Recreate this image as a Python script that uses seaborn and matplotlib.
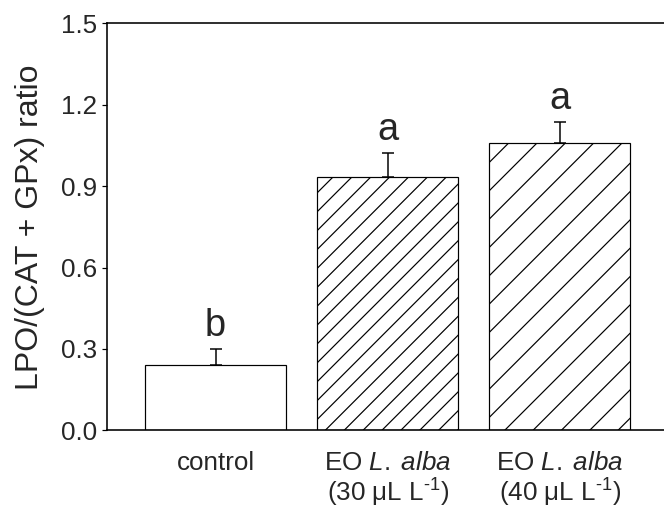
import matplotlib
matplotlib.use("Agg")
import matplotlib.pyplot as plt
import seaborn as sns
import pandas as pd

groups = ["control", "EO 30", "EO 40"]
tick_labels = [
    "control",
    "EO $\\mathit{L.\\;alba}$\n(30 μL L$^{\\text{-1}}$)",
    "EO $\\mathit{L.\\;alba}$\n(40 μL L$^{\\text{-1}}$)",
]
means = [0.241, 0.932, 1.058]
errors = [0.058, 0.089, 0.080]
letters = ["b", "a", "a"]
hatches = ["", "///", "//"]

sns.set_theme(style="white")
DPI = 170
PT = 72.0 / DPI  # points per pixel


def px(v):
    return v * PT


plt.rcParams["font.family"] = ["Liberation Sans", "DejaVu Sans"]
plt.rcParams["mathtext.fontset"] = "custom"
plt.rcParams["mathtext.rm"] = "Liberation Sans"
plt.rcParams["mathtext.it"] = "Liberation Sans:italic"
plt.rcParams["hatch.linewidth"] = px(1.2)
plt.rcParams["hatch.color"] = "black"

fig = plt.figure(figsize=(664 / DPI, 510 / DPI), dpi=DPI)
ax = fig.add_axes([107 / 664, 1 - 430.3 / 510, 1 - 107 / 664, (430.3 - 23.3) / 510])

df = pd.DataFrame({"group": groups, "value": means})
sns.barplot(data=df, x="group", y="value", ax=ax, color="white",
            edgecolor="black", linewidth=px(1.2), width=0.823, errorbar=None,
            saturation=1)
for p, h in zip(ax.patches, hatches):
    p.set_hatch(h)
    p.set_facecolor("white")
    p.set_edgecolor("black")

xs = list(range(len(groups)))
ax.errorbar(xs, means, yerr=[[0] * len(errors), errors], fmt="none",
            ecolor="black", elinewidth=px(1.5), capsize=px(6), capthick=px(1.5),
            zorder=3)

for x, m, e, l in zip(xs, means, errors, letters):
    ax.annotate(l, (x, m + e), xytext=(0, px(5)), textcoords="offset points",
                ha="center", va="bottom", fontsize=px(38))

ax.set_xlim(-0.631, 2.607)
ax.set_ylim(0, 1.5)
ax.set_yticks([0.0, 0.3, 0.6, 0.9, 1.2, 1.5])
ax.set_yticklabels(["0.0", "0.3", "0.6", "0.9", "1.2", "1.5"])
ax.set_xticks(xs)
ax.set_xticklabels(tick_labels, fontsize=px(26), linespacing=1.05)
ax.set_xlabel("")
ax.set_ylabel("LPO/(CAT + GPx) ratio", fontsize=px(32), labelpad=px(16))

ax.tick_params(axis="y", which="both", left=True, length=px(5), width=px(1.2),
               pad=px(5), labelsize=px(26), color="black", direction="out")
ax.tick_params(axis="x", bottom=False, length=0, pad=px(21))

for side in ["left", "bottom", "top"]:
    ax.spines[side].set_visible(True)
    ax.spines[side].set_color("black")
    ax.spines[side].set_linewidth(px(1.6))
ax.spines["right"].set_visible(False)

fig.savefig("out.png", dpi=DPI)
